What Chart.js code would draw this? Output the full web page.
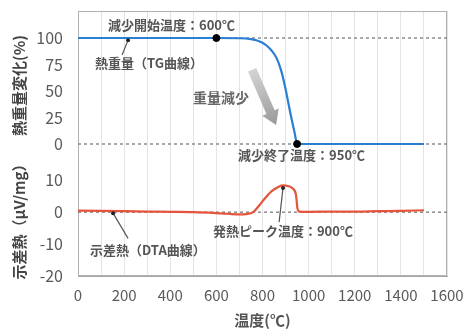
<!DOCTYPE html>
<html><head><meta charset="utf-8">
<script src="https://cdn.jsdelivr.net/npm/chart.js@4.4.0/dist/chart.umd.min.js"></script>
<style>html,body{margin:0;padding:0;background:#fff;}#wrap{width:465px;height:329px;}</style>
</head><body><div id="wrap"><canvas id="c" width="465" height="329"></canvas></div>
<script>
// ---- data ----
const tgTemp  = [0, 100, 200, 300, 400, 500, 600, 700, 750, 780, 800, 820, 840, 860, 880, 900, 920, 940, 950, 1000, 1100, 1200, 1300, 1400, 1500];
const tgValue = [100, 100, 100, 100, 100, 100, 100, 99.8, 99, 97.5, 95.5, 92.5, 88, 81.5, 70, 52, 30, 10, 0, 0, 0, 0, 0, 0, 0];
const dtaTemp  = [0, 100, 200, 300, 400, 500, 600, 650, 700, 730, 760, 790, 810, 840, 870, 890, 910, 930, 945, 952, 960, 1000, 1100, 1200, 1300, 1400, 1500];
const dtaValue = [0.5, 0.4, 0.3, 0.2, 0.1, 0, -0.3, -0.5, -0.7, -0.6, 0, 2.5, 4.3, 6.6, 8.0, 8.4, 8.2, 7.5, 5.5, 1.0, 0.2, 0.1, 0.2, 0.2, 0.3, 0.4, 0.6];
const tgMarkTemp  = [600, 950];
const tgMarkValue = [100, 0];
const xTickValues   = [0, 200, 400, 600, 800, 1000, 1200, 1400, 1600];
const tgTickValues  = [0, 25, 50, 75, 100];
const dtaTickValues = [-20, -10, 0, 10];
const tgRefLevels  = [100, 0];
const dtaRefLevels = [0];
const xTitle   = '温度(℃)';
const tgTitle  = '熱重量変化(%)';
const dtaTitle = '示差熱（μV/mg）';

// annotations (data units)
const notes = [
  {text: '減少開始温度：600℃', x: 130, y: 112, axis: 'y'},
  {text: '熱重量（TG曲線）', x: 74, y: 76, axis: 'y'},
  {text: '重量減少', x: 499, y: 44, axis: 'y', big: true},
  {text: '減少終了温度：950℃', x: 694, y: -10.4, axis: 'y'},
  {text: '発熱ピーク温度：900℃', x: 585, y: -6, axis: 'y2'},
  {text: '示差熱（DTA曲線）', x: 52, y: -12, axis: 'y2'}
];
const leaders = [
  {x1: 217, y1: 98, x2: 191, y2: 84, axis: 'y'},
  {x1: 889, y1: 7.6, x2: 872, y2: -3.1, axis: 'y2'},
  {x1: 152, y1: -0.3, x2: 217, y2: -8.2, axis: 'y2'}
];
const arrowSpec = {x1: 755, y1: 70, x2: 859, y2: 18, axis: 'y'};

const FONT = "'Noto Sans CJK JP', 'Noto Sans', sans-serif";
const pts = (xs, ys) => xs.map((x, i) => ({x: x, y: ys[i]}));
const refLine = (lvl) => [{x: 0, y: lvl}, {x: 1600, y: lvl}];

const datasets = [];
tgRefLevels.forEach(l => datasets.push({data: refLine(l), yAxisID: 'y', borderColor: '#7a7a7a', borderWidth: 1.3, borderDash: [3, 3], pointRadius: 0, order: 10}));
dtaRefLevels.forEach(l => datasets.push({data: refLine(l), yAxisID: 'y2', borderColor: '#7a7a7a', borderWidth: 1.3, borderDash: [3, 3], pointRadius: 0, order: 10}));
datasets.push({data: pts(tgTemp, tgValue), yAxisID: 'y', borderColor: '#2a7fd4', borderWidth: 2.2, pointRadius: 0, cubicInterpolationMode: 'monotone', order: 2});
datasets.push({data: pts(dtaTemp, dtaValue), yAxisID: 'y2', borderColor: '#e4553c', borderWidth: 2.2, pointRadius: 0, cubicInterpolationMode: 'monotone', order: 2});
datasets.push({data: pts(tgMarkTemp, tgMarkValue), yAxisID: 'y', showLine: false, pointRadius: 3.5, pointBackgroundColor: '#000', pointBorderColor: '#000', order: 0});

const annotPlugin = {
  id: 'annot',
  beforeDatasetsDraw(chart) {
    const {ctx, chartArea: a} = chart;
    ctx.save();
    ctx.strokeStyle = '#b0b0b0';
    ctx.lineWidth = 1;
    ctx.strokeRect(a.left + 0.5, a.top + 0.5, a.right - a.left - 1, a.bottom - a.top - 1);
    ctx.restore();
  },
  afterDatasetsDraw(chart) {
    const {ctx, scales} = chart;
    const X = v => scales.x.getPixelForValue(v);
    ctx.save();
    const ys = scales[arrowSpec.axis];
    const ax1 = X(arrowSpec.x1), ay1 = ys.getPixelForValue(arrowSpec.y1);
    const ax2 = X(arrowSpec.x2), ay2 = ys.getPixelForValue(arrowSpec.y2);
    const ang = Math.atan2(ay2 - ay1, ax2 - ax1);
    const len = Math.hypot(ax2 - ax1, ay2 - ay1);
    ctx.translate(ax1, ay1);
    ctx.rotate(ang);
    const g = ctx.createLinearGradient(0, 0, len, 0);
    g.addColorStop(0, '#d4d4d4');
    g.addColorStop(1, '#9a9a9a');
    ctx.fillStyle = g;
    const sw = 4.5, hw = 9, hl = 14;
    ctx.beginPath();
    ctx.moveTo(0, -sw); ctx.lineTo(len - hl, -sw); ctx.lineTo(len - hl, -hw);
    ctx.lineTo(len, 0); ctx.lineTo(len - hl, hw); ctx.lineTo(len - hl, sw); ctx.lineTo(0, sw);
    ctx.closePath(); ctx.fill();
    ctx.setTransform(1, 0, 0, 1, 0, 0);
    ctx.strokeStyle = '#555';
    ctx.fillStyle = '#222';
    ctx.lineWidth = 1.2;
    leaders.forEach(l => {
      const s = scales[l.axis];
      const x1 = X(l.x1), y1 = s.getPixelForValue(l.y1), x2 = X(l.x2), y2 = s.getPixelForValue(l.y2);
      ctx.beginPath(); ctx.moveTo(x1, y1); ctx.lineTo(x2, y2); ctx.stroke();
      ctx.beginPath(); ctx.arc(x1, y1, 2, 0, Math.PI * 2); ctx.fill();
    });
    ctx.textAlign = 'left';
    ctx.textBaseline = 'middle';
    notes.forEach(n => {
      const s = scales[n.axis];
      ctx.font = (n.big ? 'bold 14px ' : 'bold 13px ') + FONT;
      ctx.fillStyle = n.big ? '#666' : '#555';
      ctx.fillText(n.text, X(n.x), s.getPixelForValue(n.y));
    });
    ctx.restore();
  }
};

const yCommon = {
  position: 'left',
  stack: 'main',
  grid: {drawOnChartArea: false, drawTicks: false},
  border: {color: '#a8a8a8'},
  ticks: {padding: 15, color: '#595959', font: {family: FONT, size: 16}},
  afterFit: s => { s.width = 78; s.paddingTop = 0; s.paddingBottom = 0; }
};

new Chart(document.getElementById('c'), {
  type: 'line',
  data: {datasets: datasets},
  options: {
    responsive: false,
    devicePixelRatio: 1,
    animation: false,
    events: [],
    layout: {padding: {left: 0, top: 11, right: 18, bottom: 0}},
    plugins: {legend: {display: false}, tooltip: {enabled: false}},
    scales: {
      x: {
        type: 'linear', min: 0, max: 1600,
        afterBuildTicks: s => { const t = []; for (let v = 0; v <= 1600; v += 100) t.push({value: v}); s.ticks = t; },
        ticks: {autoSkip: false, maxRotation: 0, padding: 10, color: '#595959', font: {family: FONT, size: 15},
                callback: v => xTickValues.includes(v) ? String(v) : ''},
        grid: {color: '#e4e4e4', drawTicks: false},
        border: {color: '#a8a8a8'},
        title: {display: true, text: xTitle, color: '#555', font: {family: FONT, size: 15, weight: 'bold'}, padding: {top: 0, bottom: 0}},
        afterFit: s => { s.height = 53; s.paddingLeft = 0; s.paddingRight = 0; }
      },
      y2: Object.assign({}, yCommon, {
        type: 'linear', min: -20, max: 16.35, stackWeight: 116,
        afterBuildTicks: s => { s.ticks = dtaTickValues.map(v => ({value: v})); },
        title: {display: true, text: dtaTitle, color: '#444', font: {family: FONT, size: 15, weight: 'bold'}, padding: {top: 10, bottom: 0}}
      }),
      y: Object.assign({}, yCommon, {
        type: 'linear', min: -15.1, max: 125.5, stackWeight: 149,
        afterBuildTicks: s => { s.ticks = tgTickValues.map(v => ({value: v})); },
        title: {display: true, text: tgTitle, color: '#444', font: {family: FONT, size: 15, weight: 'bold'}, padding: {top: 10, bottom: 0}}
      })
    }
  },
  plugins: [annotPlugin]
});
</script></body></html>
